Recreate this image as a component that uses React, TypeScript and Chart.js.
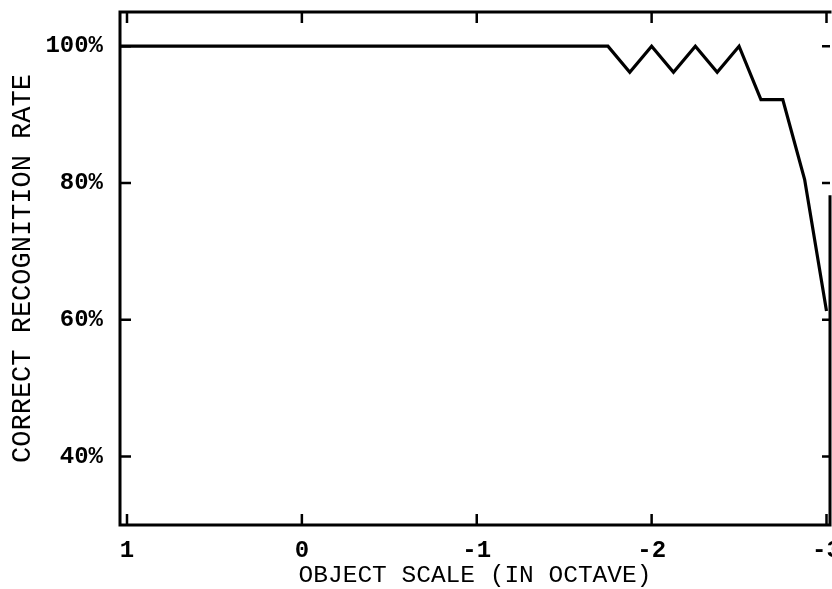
import React, { useEffect, useRef } from "react";
import { Chart, registerables } from "chart.js";

Chart.register(...registerables);

// Data
const scaleOctave = [1.04, -1.75, -1.875, -2, -2.125, -2.25, -2.375, -2.5, -2.625, -2.75, -2.875, -3];
const recognitionRate = [100, 100, 96.2, 100, 96.2, 100, 96.2, 100, 92.2, 92.2, 80.5, 61.3];
const xTickValues = [1, 0, -1, -2, -3];
const yTickValues = [40, 60, 80, 100];
const xTitle = "OBJECT SCALE (IN OCTAVE)";
const yTitle = "CORRECT RECOGNITION RATE";

const FONT = "'Liberation Mono', 'Courier New', monospace";

const framePlugin = {
  id: "frame",
  afterDatasetsDraw(chart: any) {
    const { ctx, chartArea } = chart;
    const { left, right, top, bottom } = chartArea;
    const xs = chart.scales.x;
    const ys = chart.scales.y;
    ctx.save();
    ctx.strokeStyle = "#000";
    ctx.lineWidth = 3;
    ctx.lineCap = "square";
    ctx.beginPath();
    ctx.moveTo(left, top);
    ctx.lineTo(left, bottom);
    ctx.lineTo(right, bottom);
    ctx.moveTo(left, top);
    ctx.lineTo(right, top);
    // right border (only lower part visible in reference)
    ctx.moveTo(right, ys.getPixelForValue(78));
    ctx.lineTo(right, bottom);
    ctx.stroke();
    ctx.lineWidth = 2.5;
    ctx.lineCap = "butt";
    ctx.beginPath();
    const tl = 11;
    xTickValues.forEach((v) => {
      const px = xs.getPixelForValue(v);
      ctx.moveTo(px, bottom);
      ctx.lineTo(px, bottom - tl);
      ctx.moveTo(px, top);
      ctx.lineTo(px, top + tl);
    });
    yTickValues.forEach((v) => {
      const py = ys.getPixelForValue(v);
      ctx.moveTo(left, py);
      ctx.lineTo(left + tl, py);
      ctx.moveTo(right, py);
      ctx.lineTo(right - 8, py);
    });
    ctx.stroke();
    ctx.restore();
  },
};

export default function App() {
  const ref = useRef<HTMLCanvasElement | null>(null);
  useEffect(() => {
    if (!ref.current) return;
    const chart = new Chart(ref.current, {
      type: "scatter",
      data: {
        datasets: [
          {
            data: scaleOctave.map((x, i) => ({ x, y: recognitionRate[i] })),
            showLine: true,
            borderColor: "#000",
            borderWidth: 3.2,
            pointRadius: 0,
            tension: 0,
            borderJoinStyle: "miter",
          } as any,
        ],
      },
      options: {
        responsive: false,
        animation: false,
        devicePixelRatio: 1,
        layout: { padding: { top: 12, right: 2, left: 0, bottom: 0 } },
        plugins: { legend: { display: false }, tooltip: { enabled: false } },
        scales: {
          x: {
            type: "linear",
            reverse: true,
            min: -3.02,
            max: 1.04,
            afterBuildTicks: (s: any) => {
              s.ticks = xTickValues.map((value) => ({ value }));
            },
            afterFit: (s: any) => {
              s.height = 64;
              s.paddingLeft = 0;
              s.paddingRight = 0;
              s.paddingTop = 0;
              s.paddingBottom = 0;
            },
            grid: { display: false, drawTicks: false },
            border: { display: false },
            ticks: {
              color: "#000",
              padding: 14,
              maxRotation: 0,
              autoSkip: false,
              font: { family: FONT, size: 24, weight: "bold", lineHeight: 1 },
              callback: (v: any) => String(v),
            },
            title: {
              display: true,
              text: xTitle,
              color: "#000",
              padding: { top: 0, bottom: 1 },
              font: { family: FONT, size: 24.5, lineHeight: 1 },
            },
          },
          y: {
            type: "linear",
            min: 30,
            max: 105,
            afterBuildTicks: (s: any) => {
              s.ticks = yTickValues.map((value) => ({ value }));
            },
            afterFit: (s: any) => {
              s.width = 120;
              s.paddingLeft = 0;
              s.paddingRight = 0;
              s.paddingTop = 0;
              s.paddingBottom = 0;
            },
            grid: { display: false, drawTicks: false },
            border: { display: false },
            ticks: {
              color: "#000",
              padding: 17,
              autoSkip: false,
              font: { family: FONT, size: 24, weight: "bold", lineHeight: 1 },
              callback: (v: any) => v + "%",
            },
            title: {
              display: true,
              text: yTitle,
              color: "#000",
              padding: { top: 9, bottom: 0 },
              font: { family: FONT, size: 27, lineHeight: 1 },
            },
          },
        },
      } as any,
      plugins: [framePlugin],
    });
    return () => chart.destroy();
  }, []);
  return (
    <div style={{ position: "fixed", left: 0, top: 0, width: 832, height: 589, background: "#fff" }}>
      <canvas ref={ref} width={832} height={589} style={{ display: "block" }} />
    </div>
  );
}
